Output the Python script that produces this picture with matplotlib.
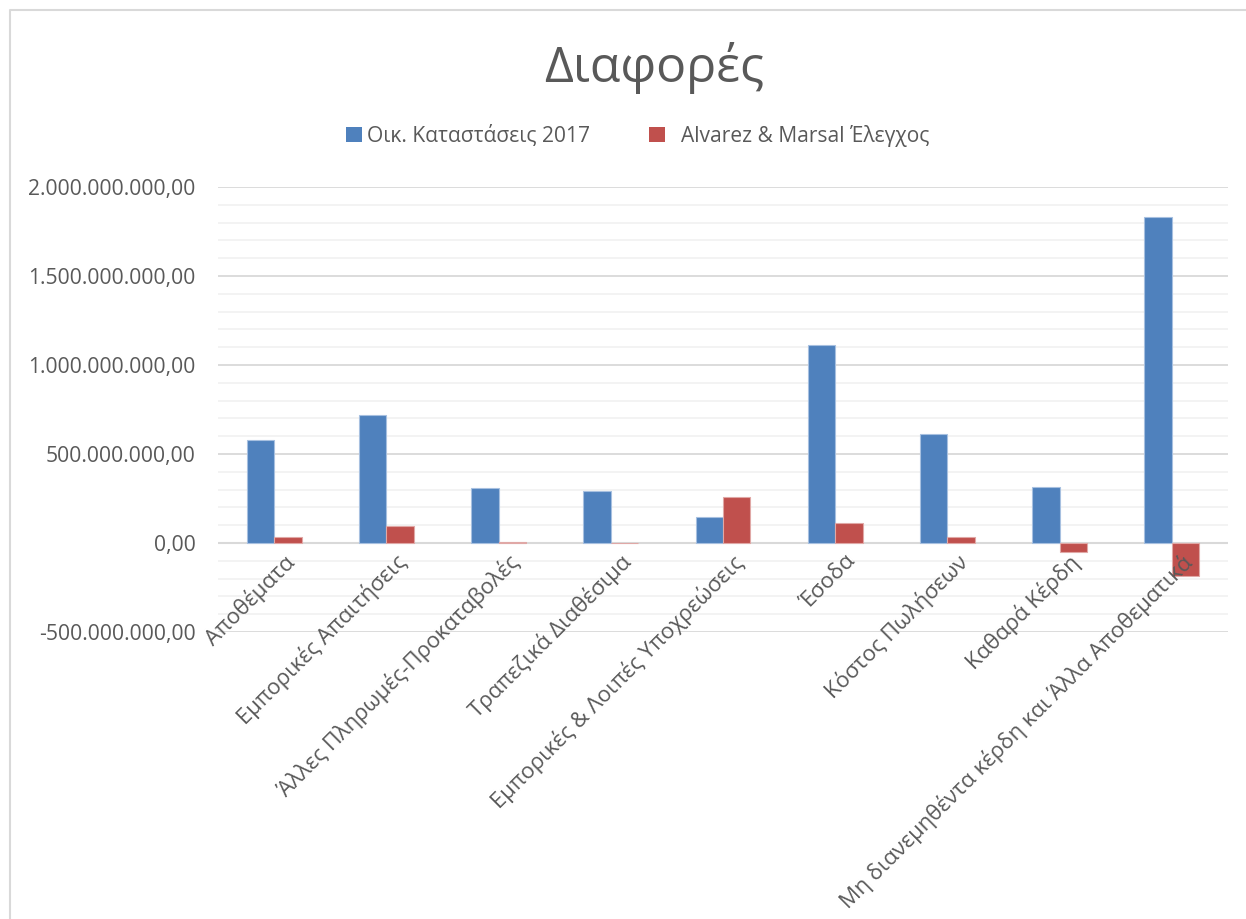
"""Grouped bar chart: Διαφορές (Οικ. Καταστάσεις 2017 vs Alvarez & Marsal)."""

import matplotlib

matplotlib.use("Agg")
import matplotlib.pyplot as plt
import matplotlib.transforms as mtransforms
import numpy as np
from matplotlib.lines import Line2D
from matplotlib.patches import Patch
from matplotlib.ticker import FuncFormatter, MultipleLocator

categories = [
    "Αποθέματα",
    "Εμπορικές Απαιτήσεις",
    "Άλλες Πληρωμές-Προκαταβολές",
    "Τραπεζικά Διαθέσιμα",
    "Εμπορικές & Λοιπές Υποχρεώσεις",
    "Έσοδα",
    "Κόστος Πωλήσεων",
    "Καθαρά Κέρδη",
    "Μη διανεμηθέντα κέρδη και Άλλα Αποθεματικά",
]
fs_2017 = [579e6, 719e6, 307e6, 292e6, 145e6, 1112e6, 611e6, 313e6, 1831e6]
am_audit = [34e6, 96e6, 5e6, 2e6, 257e6, 114e6, 32e6, -49e6, -184e6]
series_names = ["Οικ. Καταστάσεις 2017", "  Alvarez & Marsal Έλεγχος"]

BLUE = "#4F81BD"
RED = "#C0504D"
TEXT = "#595959"
GRID = "#D9D9D9"
MINOR = "#F2F2F2"
FS = 15.2

plt.rcParams["font.family"] = ["Open Sans", "DejaVu Sans"]
plt.rcParams["axes.unicode_minus"] = False


def euro_fmt(v, _pos):
    s = f"{v:,.2f}"
    return s.replace(",", "X").replace(".", ",").replace("X", ".")


fig = plt.figure(figsize=(12.46, 9.19), dpi=100)
ax = fig.add_axes([218 / 1246, 1 - 632 / 919, (1228 - 218) / 1246, (632 - 187) / 919])

x = np.arange(len(categories))
w = 0.245
ax.bar(x - w / 2, fs_2017, w, color=BLUE, edgecolor="#A7C0E0", linewidth=0.8, zorder=3)
ax.bar(x + w / 2, am_audit, w, color=RED, edgecolor="#E0A8A6", linewidth=0.8, zorder=3)

ax.set_xlim(-0.5, len(categories) - 0.5)
ax.set_ylim(-500e6, 2000e6)
ax.yaxis.set_major_locator(MultipleLocator(500e6))
ax.yaxis.set_minor_locator(MultipleLocator(100e6))
ax.yaxis.set_major_formatter(FuncFormatter(euro_fmt))
ax.grid(axis="y", which="major", color=GRID, linewidth=1.3, zorder=0)
ax.grid(axis="y", which="minor", color=MINOR, linewidth=1.3, zorder=0)
ax.axhline(0, color=GRID, linewidth=1.5, zorder=2)
ax.tick_params(axis="y", which="both", length=0, pad=16, labelsize=FS, labelcolor=TEXT)
ax.set_xticks([])
for s in ax.spines.values():
    s.set_visible(False)

# category labels sit under the zero line, like the spreadsheet chart
off = mtransforms.offset_copy(ax.transData, fig=fig, x=0, y=-8, units="dots")
for i, lab in enumerate(categories):
    ax.text(i + 0.08, 0, lab, transform=off, rotation=45, rotation_mode="anchor",
            ha="right", va="top", fontsize=15.9, color=TEXT)

fig.text(654 / 1246, 1 - 68 / 919, "Διαφορές", ha="center", va="center", fontsize=36, color=TEXT)

handles = [Patch(facecolor=BLUE), Patch(facecolor=RED)]
fig.legend(handles, series_names, loc="center", bbox_to_anchor=(638 / 1246, 1 - 136 / 919), ncol=2,
           frameon=False, fontsize=15.1, labelcolor=TEXT, handlelength=0.75, handleheight=0.75,
           handletextpad=0.25, columnspacing=2.8)

# light chart-area border (top and left edges visible)
fig.add_artist(Line2D([10 / 1246, 10 / 1246, 1], [0, 1 - 10 / 919, 1 - 10 / 919],
                      transform=fig.transFigure, color=GRID, linewidth=1.5))

fig.savefig("out.png", dpi=100)
